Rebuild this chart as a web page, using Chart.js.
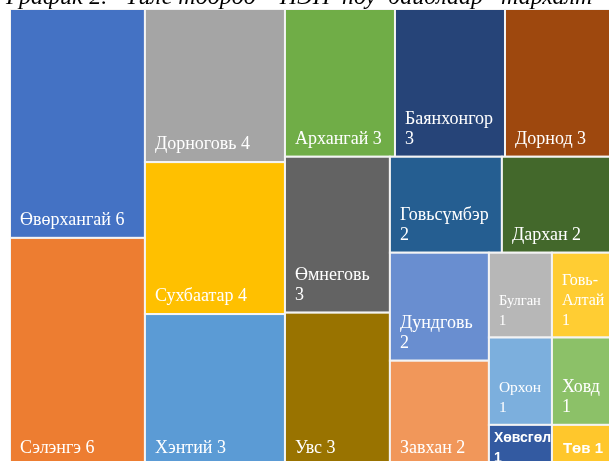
<!DOCTYPE html>
<html lang="mn">
<head>
<meta charset="utf-8">
<script src="https://cdn.jsdelivr.net/npm/chart.js@4.4.1/dist/chart.umd.min.js"></script>
<style>
  html, body { margin: 0; padding: 0; background: #fff; overflow: hidden; }
  #wrap { position: relative; width: 609px; height: 461px; overflow: hidden; }
  /* the canvas is a bit bigger than the window: the title and the right/bottom edge are cut like in the picture */
  #wrap canvas { position: absolute; left: 0; top: -13px; }
</style>
</head>
<body>
<div id="wrap"><canvas id="treemap" width="620" height="482"></canvas></div>
<script>
// --- DATA ---
const titleText = 'График 2.   Үйле тоороо    НЭН  ноу  байдлаар   тархалт';
const aimags = ['Өвөрхангай', 'Сэлэнгэ', 'Дорноговь', 'Сухбаатар', 'Хэнтий',
                'Архангай', 'Баянхонгор', 'Дорнод', 'Өмнеговь', 'Увс',
                'Говьсүмбэр', 'Дархан', 'Дундговь', 'Завхан',
                'Булган', 'Говь-Алтай', 'Орхон', 'Ховд', 'Хөвсгөл', 'Төв'];
// size of each cell
const sizes = [5.72, 5.70, 3.97, 3.94, 3.94,
               3.01, 3.01, 3.01, 3.03, 2.98,
               1.99, 2.01, 1.98, 1.93,
               0.99, 0.99, 1.02, 1.02, 0.48, 0.48];
// number printed in each label
const shownValues = [6, 6, 4, 4, 3, 3, 3, 3, 3, 3, 2, 2, 2, 2, 1, 1, 1, 1, 1, 1];
// how many cells go in each strip of the treemap
const stripSizes = [2, 3, 3, 2, 2, 2, 2, 2, 2];

const colors = ['#4472C4', '#ED7D31', '#A5A5A5', '#FFC000', '#5B9BD5',
                '#70AD47', '#264478', '#9E480E', '#636363', '#997300',
                '#255E91', '#43682B', '#698ED0', '#F1975A',
                '#B7B7B7', '#FFCD33', '#7CAFDD', '#8CC168', '#335AA1', '#FFC72C'];

const defaultFont = { family: '"Liberation Serif", "Times New Roman", serif', weight: 'normal', size: 18, pad: 10, shrink: true };
// fonts that differ from the default label font
const specialFonts = {
    'Хөвсгөл': { family: '"Liberation Sans", Arial, sans-serif', weight: 'bold', size: 14, pad: 5, shrink: false },
    'Төв': { family: '"Liberation Sans", Arial, sans-serif', weight: 'bold', size: 15, pad: 11, shrink: false }
};

// worst aspect ratio of a strip laid out as a row (or a column)
function worstAspect(group, w, h, asRow) {
    const tot = group.reduce((a, b) => a + b, 0);
    let worst = 0;
    group.forEach(v => {
        const cw = asRow ? w * v / tot : w;
        const ch = asRow ? h : h * v / tot;
        worst = Math.max(worst, cw / ch, ch / cw);
    });
    return worst;
}

// strip treemap: each strip goes along the shorter side of what is left
function layoutStrips(vals, counts, W, H) {
    const total = vals.reduce((a, b) => a + b, 0);
    const unit = W * H / total;
    let x = 0, y = 0, w = W, h = H, i = 0;
    const rects = [];
    counts.forEach((n, k) => {
        const group = vals.slice(i, i + n);
        const area = group.reduce((a, b) => a + b, 0) * unit;
        let asRow = w < h;
        if (k === counts.length - 1) {
            // last strip fills the rest: keep the squarer shape
            asRow = worstAspect(group, w, h, true) <= worstAspect(group, w, h, false);
        }
        if (asRow) {
            const sh = area / w;
            let cx = x;
            group.forEach(v => {
                const cw = v * unit / sh;
                rects.push({ x0: cx, x1: cx + cw, y0: y, y1: y + sh });
                cx += cw;
            });
            y += sh; h -= sh;
        } else {
            const sw = area / h;
            let cy = y;
            group.forEach(v => {
                const ch = v * unit / sw;
                rects.push({ x0: x, x1: x + sw, y0: cy, y1: cy + ch });
                cy += ch;
            });
            x += sw; w -= sw;
        }
        i += n;
    });
    return rects;
}

// split a label in lines that fit in maxW
function wrapLabel(ctx, text, maxW) {
    const tokens = [];
    text.split(' ').forEach(word => {
        const parts = word.split('-');
        parts.forEach((p, j) => tokens.push({ t: j < parts.length - 1 ? p + '-' : p, hyph: j < parts.length - 1 }));
    });
    const lines = [];
    let line = '', prevHyph = false;
    tokens.forEach(tok => {
        const tryLine = line === '' ? tok.t : line + (prevHyph ? '' : ' ') + tok.t;
        if (line !== '' && ctx.measureText(tryLine).width > maxW) {
            lines.push(line);
            line = tok.t;
        } else {
            line = tryLine;
        }
        prevHyph = tok.hyph;
    });
    if (line !== '') lines.push(line);
    return lines;
}

const treemapPlugin = {
    id: 'treemapCells',
    beforeDatasetsDraw(chart) {
        const { ctx, chartArea: a } = chart;
        const sx = chart.scales.x, sy = chart.scales.y;
        const rects = layoutStrips(sizes, stripSizes, a.width, a.height);

        ctx.save();
        ctx.beginPath();
        ctx.rect(a.left, a.top, a.width, a.height);
        ctx.clip();

        rects.forEach((r, i) => {
            // layout is in chart-area units, turned into 0..100 values for the scales
            const left = sx.getPixelForValue(r.x0 / a.width * 100);
            const right = sx.getPixelForValue(r.x1 / a.width * 100);
            const top = sy.getPixelForValue(r.y0 / a.height * 100);
            const bottom = sy.getPixelForValue(r.y1 / a.height * 100);

            ctx.fillStyle = colors[i];
            ctx.fillRect(left, top, right - left, bottom - top);
            ctx.strokeStyle = '#F4F4F4';
            ctx.lineWidth = 2;
            ctx.strokeRect(left, top, right - left, bottom - top);
        });

        // labels, bottom-left of every cell
        rects.forEach((r, i) => {
            const left = sx.getPixelForValue(r.x0 / a.width * 100);
            const right = sx.getPixelForValue(r.x1 / a.width * 100);
            const top = sy.getPixelForValue(r.y0 / a.height * 100);
            const bottom = sy.getPixelForValue(r.y1 / a.height * 100);
            const sp = specialFonts[aimags[i]] || defaultFont;
            const maxW = right - left - 2 * sp.pad;
            const text = aimags[i] + ' ' + shownValues[i];

            let size = sp.size, lines;
            do {
                ctx.font = sp.weight + ' ' + size + 'px ' + sp.family;
                lines = wrapLabel(ctx, text, maxW);
                const widest = Math.max(...lines.map(l => ctx.measureText(l).width));
                if (!sp.shrink || widest <= maxW || size <= 11) break;
                size -= 0.5;
            } while (true);

            const lh = 20;
            let first = bottom - 13 - (lines.length - 1) * lh;
            if (first < top + 17) first = top + 17;
            ctx.fillStyle = '#FFFFFF';
            ctx.textBaseline = 'alphabetic';
            ctx.textAlign = 'left';
            lines.forEach((l, j) => ctx.fillText(l, left + sp.pad, first + j * lh));
        });
        ctx.restore();
    },
    afterDraw(chart) {
        // the title, its upper part falls outside the window
        const ctx = chart.ctx;
        ctx.save();
        ctx.font = 'italic 24px "Liberation Serif", "Times New Roman", serif';
        ctx.fillStyle = '#000000';
        ctx.textBaseline = 'alphabetic';
        ctx.fillText(titleText, 6, 17);
        ctx.restore();
    }
};

new Chart(document.getElementById('treemap'), {
    type: 'scatter',
    data: { datasets: [{ label: 'НЭН', data: [], pointRadius: 0 }] },
    options: {
        responsive: false,
        animation: false,
        events: [],
        layout: { padding: { top: 22, left: 10, right: 5, bottom: 3 } },
        scales: {
            x: { type: 'linear', min: 0, max: 100, display: false },
            y: { type: 'linear', min: 0, max: 100, reverse: true, display: false }
        },
        plugins: {
            legend: { display: false },
            title: { display: false },
            tooltip: { enabled: false }
        }
    },
    plugins: [treemapPlugin]
});
</script>
</body>
</html>
